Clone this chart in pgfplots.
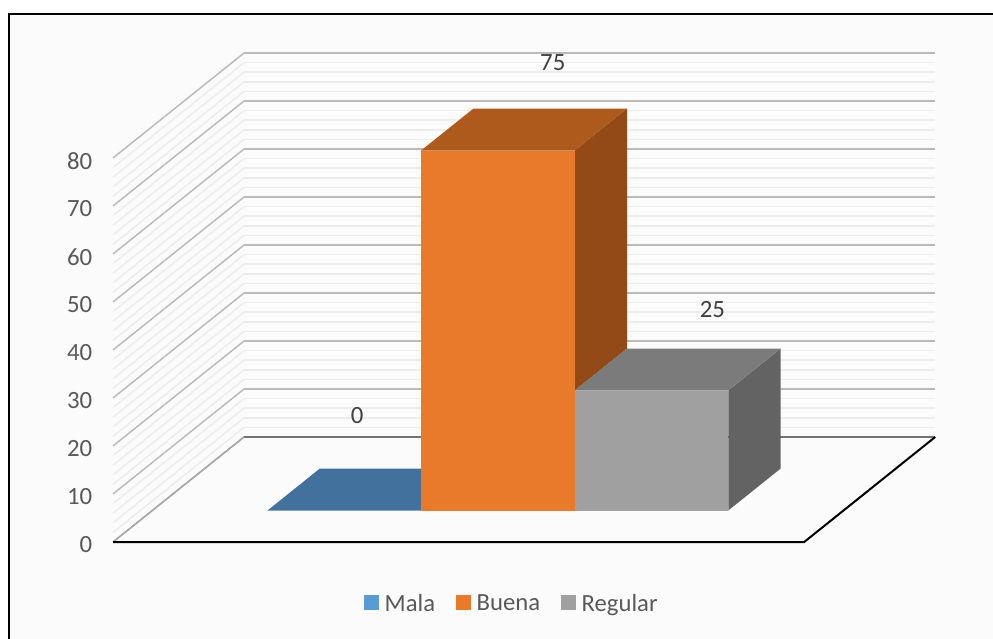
\documentclass[border=0pt]{standalone}
\usepackage{pgfplots}
\pgfplotsset{compat=1.18}
\usepackage{fontspec}
\setmainfont{Carlito}

\definecolor{malaF}{HTML}{5B9BD5}
\definecolor{malaT}{HTML}{41719C}
\definecolor{buenaF}{HTML}{E97A2A}
\definecolor{buenaT}{HTML}{AE5A1D}
\definecolor{buenaS}{HTML}{934A17}
\definecolor{regF}{HTML}{A0A0A0}
\definecolor{regT}{HTML}{7B7B7B}
\definecolor{regS}{HTML}{636363}
\definecolor{ticktext}{HTML}{595959}
\definecolor{labeltext}{HTML}{404040}

\newcommand{\legsquare}[1]{%
  \addlegendimage{legend image code/.code={\fill[#1] (0,-4.1pt) rectangle (10.5pt,6.4pt); \path[draw=none] (0,0) -- (13pt,0);}}}

\begin{document}
\begin{tikzpicture}[x=0.75pt,y=-0.75pt]
\path[use as bounding box] (0,0) rectangle (993,639);
\fill[white] (0,0) rectangle (993,639);
\fill[black!1.5] (9,14) rectangle (993,639);
\draw[black,line width=2.2pt] (9,639) -- (9,14) -- (993,14);

\begin{axis}[
    at={(84.75pt,-406.5pt)},
    anchor=origin,
    x={(115.2pt,0pt)},
    y={(98.25pt,78.75pt)},
    z={(0pt,3.6pt)},
    xmin=0, xmax=4.5,
    ymin=0, ymax=1,
    zmin=0, zmax=80,
    clip=false,
    axis line style={draw=none},
    tick style={draw=none},
    xtick=\empty,
    ytick=\empty,
    ztick={0,10,...,80},
    minor z tick num=4,
    zmajorgrids,
    zminorgrids,
    major z grid style={draw=black!27,line width=1.1pt},
    minor z grid style={draw=black!7,line width=1.1pt},
    zticklabel pos=left,
    /pgf/number format/assume math mode=true,
    z tick label style={font=\fontsize{18.6}{20}\selectfont,text=ticktext,anchor=east,xshift=-12pt,yshift=-2.25pt},
    legend style={at={(axis cs:2.6,0,-12.8)},anchor=center,draw=none,fill=none,
        font=\fontsize{18.5}{20}\selectfont,text=ticktext,
        legend columns=3,
        /tikz/every even column/.append style={column sep=14pt}},
    legend cell align=left,
]
% floor edges
\addplot3[black!55,line width=1.5pt,forget plot] coordinates {(0,1,0) (4.5,1,0)};
\addplot3[black!35,line width=1.1pt,forget plot] coordinates {(0,0,0) (0,1,0)};
\addplot3[black,line width=1.5pt,forget plot] coordinates {(0,0,0) (4.5,0,0) (4.5,1,0)};

% Mala = 0
\addplot3[fill=malaT,draw=none,forget plot] coordinates {(0.75,0.3,0) (1.75,0.3,0) (1.75,0.7,0) (0.75,0.7,0)};

% Buena = 75
\addplot3[fill=buenaS,draw=none,forget plot] coordinates {(2.75,0.3,25) (2.75,0.7,25) (2.75,0.7,75) (2.75,0.3,75)};
\addplot3[fill=buenaT,draw=none,forget plot] coordinates {(1.75,0.3,75) (2.75,0.3,75) (2.75,0.7,75) (1.75,0.7,75)};
\addplot3[fill=buenaF,draw=none,forget plot] coordinates {(1.75,0.3,0) (2.75,0.3,0) (2.75,0.3,75) (1.75,0.3,75)};

% Regular = 25
\addplot3[fill=regS,draw=none,forget plot] coordinates {(3.75,0.3,0) (3.75,0.7,0) (3.75,0.7,25) (3.75,0.3,25)};
\addplot3[fill=regT,draw=none,forget plot] coordinates {(2.75,0.3,25) (3.75,0.3,25) (3.75,0.7,25) (2.75,0.7,25)};
\addplot3[fill=regF,draw=none,forget plot] coordinates {(2.75,0.3,0) (3.75,0.3,0) (3.75,0.3,25) (2.75,0.3,25)};

% value labels
\addplot3[draw=none,forget plot,point meta=z,nodes near coords,
    nodes near coords style={font=\fontsize{18.6}{20}\selectfont,text=labeltext,anchor=center,xshift=-10pt,yshift=55.5pt}]
    coordinates {(1.25,0.5,0)};
\addplot3[draw=none,forget plot,point meta=z,nodes near coords,
    nodes near coords style={font=\fontsize{18.6}{20}\selectfont,text=labeltext,anchor=center,xshift=21.5pt,yshift=50pt}]
    coordinates {(2.25,0.5,75)};
\addplot3[draw=none,forget plot,point meta=z,nodes near coords,
    nodes near coords style={font=\fontsize{18.6}{20}\selectfont,text=labeltext,anchor=center,xshift=26pt,yshift=45pt}]
    coordinates {(3.25,0.5,25)};

\legsquare{malaF}
\addlegendentry{Mala}
\legsquare{buenaF}
\addlegendentry{Buena}
\legsquare{regF}
\addlegendentry{Regular}
\end{axis}
\end{tikzpicture}
\end{document}
